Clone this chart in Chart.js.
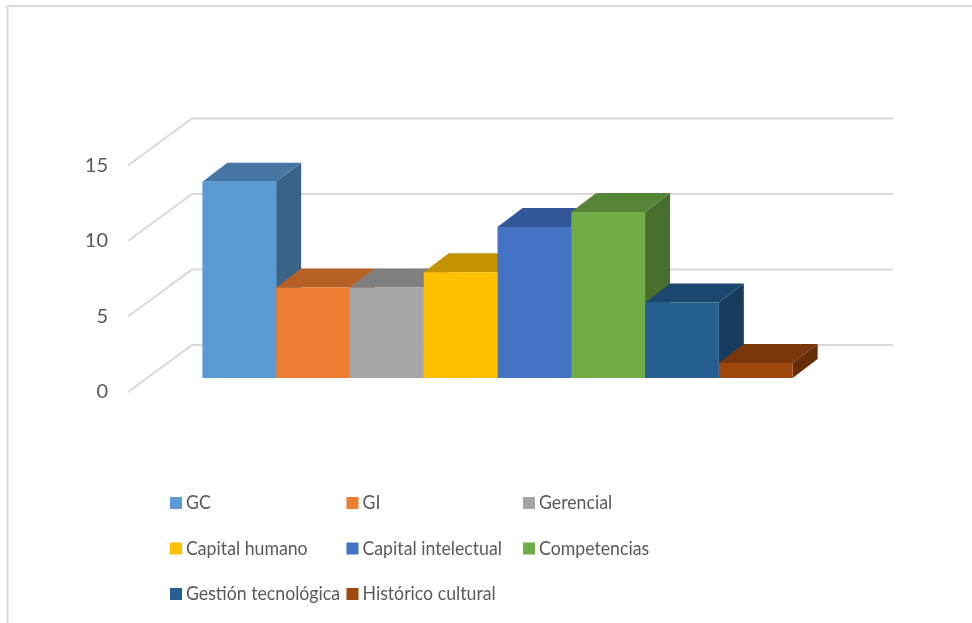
<!DOCTYPE html>
<html>
<head>
<meta charset="utf-8">
<script src="https://cdn.jsdelivr.net/npm/chart.js@4.4.1/dist/chart.umd.min.js"></script>
<style>
  html, body { margin: 0; padding: 0; background: #fff; }
  #wrap { width: 972px; height: 623px; }
</style>
</head>
<body>
<div id="wrap"><canvas id="chart" width="972" height="623"></canvas></div>
<script>
const seriesNames = ['GC', 'GI', 'Gerencial', 'Capital humano', 'Capital intelectual', 'Competencias', 'Gestión tecnológica', 'Histórico cultural'];
const seriesValues = [13, 6, 6, 7, 10, 11, 5, 1];
const seriesColors = ['#5B9BD5', '#ED7D31', '#A5A5A5', '#FFC000', '#4472C4', '#70AD47', '#255E91', '#9E480E'];
const yMax = 15;
const yStep = 5;

// fake 3D: depth of each bar and offset of the walls relative to the bar plane
const DEPTH_X = 25, DEPTH_Y = 19;
const FRONT_DX = -19, FRONT_DY = 14;
const BACK_DX = 45, BACK_DY = -33;
const GRID_COLOR = '#d9d9d9';
const TEXT_COLOR = '#595959';
const FONT = 'Lato, "Open Sans", sans-serif';

function shade(hex, f) {
  const n = parseInt(hex.slice(1), 16);
  const r = Math.round(((n >> 16) & 255) * f);
  const g = Math.round(((n >> 8) & 255) * f);
  const b = Math.round((n & 255) * f);
  return `rgb(${r},${g},${b})`;
}

function poly(ctx, pts, color) {
  ctx.beginPath();
  ctx.moveTo(pts[0][0], pts[0][1]);
  for (let i = 1; i < pts.length; i++) ctx.lineTo(pts[i][0], pts[i][1]);
  ctx.closePath();
  ctx.fillStyle = color;
  ctx.fill();
}

const box3d = {
  id: 'box3d',
  beforeDraw(chart) {
    const ctx = chart.ctx;
    ctx.save();
    ctx.fillStyle = '#fff';
    ctx.fillRect(0, 0, chart.width, chart.height);
    // outer frame (top and left edges only)
    ctx.strokeStyle = GRID_COLOR;
    ctx.lineWidth = 2;
    ctx.beginPath();
    ctx.moveTo(chart.width, 6);
    ctx.lineTo(7.5, 6);
    ctx.lineTo(7.5, chart.height);
    ctx.stroke();
    ctx.restore();
  },
  beforeDatasetsDraw(chart) {
    const ctx = chart.ctx;
    const y = chart.scales.y;
    const area = chart.chartArea;
    ctx.save();
    // floor edge + back wall gridlines
    ctx.strokeStyle = GRID_COLOR;
    ctx.lineWidth = 2;
    for (let v = 0; v <= yMax; v += yStep) {
      const py = y.getPixelForValue(v);
      ctx.beginPath();
      ctx.moveTo(area.left + FRONT_DX, py + FRONT_DY);
      ctx.lineTo(area.left + BACK_DX, py + BACK_DY);
      ctx.lineTo(area.right + BACK_DX, py + BACK_DY);
      ctx.stroke();
    }
    // side and top faces, left to right; front faces are drawn by the bar controller
    chart.data.datasets.forEach((ds, i) => {
      const bar = chart.getDatasetMeta(i).data[0];
      const left = bar.x - bar.width / 2;
      const right = bar.x + bar.width / 2;
      const top = bar.y;
      const base = bar.base;
      poly(ctx, [[right, top], [right + DEPTH_X, top - DEPTH_Y], [right + DEPTH_X, base - DEPTH_Y], [right, base]], shade(seriesColors[i], 0.64));
      poly(ctx, [[left, top], [left + DEPTH_X, top - DEPTH_Y], [right + DEPTH_X, top - DEPTH_Y], [right, top]], shade(seriesColors[i], 0.77));
    });
    ctx.restore();
  },
  afterDraw(chart) {
    // legend laid out in a 3-column grid, text slightly condensed
    const ctx = chart.ctx;
    ctx.save();
    ctx.font = '20px ' + FONT;
    ctx.textBaseline = 'middle';
    ctx.textAlign = 'left';
    seriesNames.forEach((name, i) => {
      const col = i % 3, row = Math.floor(i / 3);
      const x = 170 + col * 176.5;
      const cy = 503 + row * 45.5;
      ctx.fillStyle = seriesColors[i];
      ctx.fillRect(x, cy - 6, 12, 12);
      ctx.save();
      ctx.translate(x + 16, cy);
      ctx.scale(0.885, 1);
      ctx.fillStyle = TEXT_COLOR;
      ctx.fillText(name, 0, 0);
      ctx.restore();
    });
    ctx.restore();
  }
};

new Chart(document.getElementById('chart'), {
  type: 'bar',
  data: {
    labels: [''],
    datasets: seriesNames.map((name, i) => ({
      label: name,
      data: [seriesValues[i]],
      backgroundColor: seriesColors[i],
      borderWidth: 0
    }))
  },
  options: {
    responsive: false,
    animation: false,
    devicePixelRatio: 1,
    categoryPercentage: 0.842,
    barPercentage: 1,
    layout: { padding: { left: 85, right: 124, top: 151.5, bottom: 245 } },
    plugins: {
      legend: { display: false },
      tooltip: { enabled: false }
    },
    scales: {
      x: { display: false },
      y: {
        min: 0,
        max: yMax,
        afterFit: (scale) => { scale.width = 62; },
        grid: { display: false, drawTicks: false },
        border: { display: false },
        ticks: {
          stepSize: yStep,
          padding: 39,
          labelOffset: FRONT_DY,
          color: TEXT_COLOR,
          font: { family: FONT, size: 20 }
        }
      }
    }
  },
  plugins: [box3d]
});
</script>
</body>
</html>
